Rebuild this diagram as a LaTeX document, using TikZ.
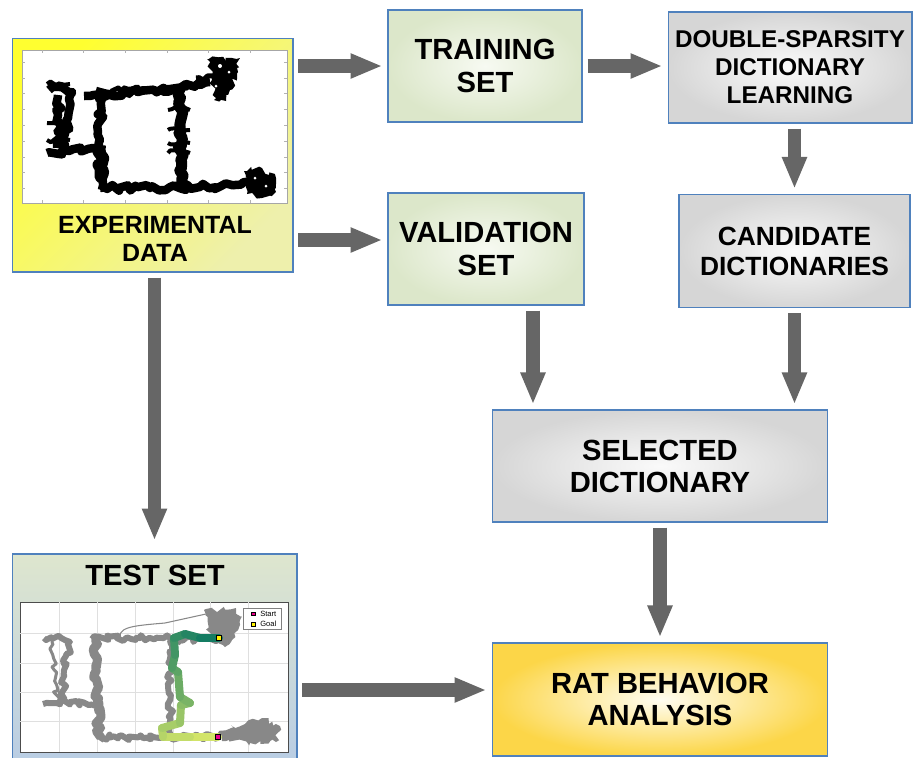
\documentclass[tikz,border=0pt]{standalone}
\usepackage{fontspec}
\setmainfont{Liberation Sans}
\usetikzlibrary{arrows.meta,positioning,calc,decorations.pathmorphing}
\definecolor{boxblue}{RGB}{79,129,189}
\definecolor{arrgray}{RGB}{102,102,102}
\definecolor{grnin}{RGB}{247,250,242}
\definecolor{grnout}{RGB}{220,231,202}
\definecolor{gryin}{RGB}{250,250,250}
\definecolor{gryout}{RGB}{214,214,214}
\definecolor{ratin}{RGB}{255,253,242}
\definecolor{ratout}{RGB}{252,214,72}
\definecolor{expyl}{RGB}{255,255,48}
\definecolor{exppale}{RGB}{238,240,172}
\definecolor{testtop}{RGB}{222,230,206}
\definecolor{testbot}{RGB}{185,205,228}
\definecolor{trjgray}{RGB}{136,136,136}
\definecolor{startyl}{RGB}{224,236,106}
\definecolor{goalgr}{RGB}{20,124,98}
\tikzset{box/.style={draw=boxblue, line width=0.6pt, inner sep=0pt, align=center,
          font=\fontsize{16.6}{19}\selectfont\bfseries},
         greenbox/.style={box, inner color=grnin, outer color=grnout},
         graybox/.style={box, inner color=gryin, outer color=gryout},
         bigarrow/.style={draw=arrgray, line width=0.27cm, shorten <=0.1cm, shorten >=0.1cm,
          -{Triangle[width=0.46cm,length=0.64cm]}},
         traj/.style={line width=0.17cm, line join=round, decorate,
          decoration={random steps, segment length=2.5pt, amplitude=1.7pt}},
         ttraj/.style={trjgray, line width=0.12cm, line join=round, decorate,
          decoration={random steps, segment length=2pt, amplitude=1.8pt}},
         blob/.style={decorate, decoration={random steps, segment length=2pt, amplitude=1.8pt}}}

\begin{document}
\begin{tikzpicture}[x=0.02cm,y=-0.02cm]
\useasboundingbox (0,0) rectangle (914,758);
% boxes
\node[box, top color=expyl, bottom color=exppale, shading angle=45,
      minimum width=5.62cm, minimum height=4.68cm] (expdata) at (152.5,155) {};
\node[greenbox, minimum width=3.88cm, minimum height=2.24cm] (train) at (485,66) {TRAINING\\SET};
\node[graybox, minimum width=4.88cm, minimum height=2.22cm,
      font=\fontsize{13.8}{15.9}\selectfont\bfseries] (dsdl) at (790,67.5) {DOUBLE-SPARSITY\\DICTIONARY\\LEARNING};
\node[greenbox, minimum width=3.92cm, minimum height=2.24cm] (valid) at (486,249) {VALIDATION\\SET};
\node[graybox, minimum width=4.62cm, minimum height=2.26cm,
      font=\fontsize{15}{17}\selectfont\bfseries] (cand) at (794.5,251) {CANDIDATE\\DICTIONARIES};
\node[graybox, minimum width=6.72cm, minimum height=2.24cm,
      font=\fontsize{16.6}{18.2}\selectfont\bfseries] (seldict) at (660,466) {SELECTED\\DICTIONARY};
\node[box, top color=testtop, bottom color=testbot,
      minimum width=5.7cm, minimum height=4.16cm] (testset) at (154.5,658) {};
\node[box, inner color=ratin, outer color=ratout, minimum width=6.72cm, minimum height=2.26cm,
      font=\fontsize{16.6}{18.2}\selectfont\bfseries] (ratba) at (660,699.5) {RAT BEHAVIOR\\ANALYSIS};
\node[align=center, font=\fontsize{14.2}{16.4}\selectfont\bfseries] (explbl) at (155,239) {EXPERIMENTAL\\DATA};
\node[font=\fontsize{16.6}{19}\selectfont\bfseries] (testlbl) at (155,575) {TEST SET};

% arrows
\coordinate (vin) at ([yshift=0.18cm]valid.west);
\coordinate (vout) at ([xshift=0.94cm]valid.south);
\coordinate (rin) at ([yshift=0.19cm]ratba.west);
\draw[bigarrow] (expdata.east |- train.west) -- (train.west);
\draw[bigarrow] (train.east) -- (train.east -| dsdl.west);
\draw[bigarrow] (dsdl.south -| cand.north) -- (cand.north);
\draw[bigarrow] (expdata.east |- vin) -- (vin);
\draw[bigarrow] (vout) -- (vout |- seldict.north);
\draw[bigarrow] (cand.south) -- (cand.south |- seldict.north);
\draw[bigarrow, shorten >=0.26cm] (testset.north |- expdata.south) -- (testset.north);
\draw[bigarrow] (seldict.south) -- (seldict.south |- ratba.north);
\draw[bigarrow] (testset.east |- rin) -- (rin);

% experimental data plot
\draw[gray!70, fill=white, line width=0.4pt] (22,50) rectangle (287,203);
\foreach \tx in {42,83,125,167,208,250}
  \draw[gray!60, line width=0.3pt] (\tx,50) -- (\tx,53) (\tx,203) -- (\tx,200);
\foreach \ty in {62,78,93,109,125,141,157,172,188}
  \draw[gray!60, line width=0.3pt] (22,\ty) -- (25,\ty) (287,\ty) -- (284,\ty);
\draw[traj] (49,90) -- (62,87) -- (72,92) -- (68,118) -- (64,150);
\draw[traj] (58,95) -- (60,130) -- (57,148);
\draw[traj] (47,153) -- (70,151) -- (93,148) -- (100,150);
\draw[traj] (101,88) -- (100,140) -- (102,190);
\draw[traj, line width=0.24cm] (100,145) -- (101,178);
\draw[traj] (84,96) -- (130,92) -- (175,89) -- (210,82);
\draw[traj, line width=0.1cm] (100,92) -- (150,89) -- (200,84);
\draw[traj, line width=0.22cm] (181,87) -- (180,186);
\draw[traj] (100,188) -- (150,188) -- (200,187) -- (235,185) -- (252,181);
\draw[traj, line width=0.1cm] (196,78) -- (224,78);
\foreach \sy in {110,130,143,153}
  \draw[traj, line width=0.08cm] (168,\sy) -- (190,\sy);
\foreach \sy in {84,123,140}
  \draw[traj, line width=0.08cm] (47,\sy) -- (70,\sy);
\fill[blob] (207,59) -- (240,58) -- (238,72) -- (230,90) -- (226,101) -- (214,100) -- (212,80) -- cycle;
\fill[white] (220,66) circle (2) (229,72) circle (1.5) (216,86) circle (1.5);
\fill[blob] (244,171) -- (262,168) -- (276,178) -- (276,192) -- (262,198) -- (247,194) -- cycle;
\fill[white] (255,178) circle (1.5) (266,186) circle (1.5);

% test set plot
\draw[black!70, fill=white, line width=0.4pt] (20,602) rectangle (288,752);
\foreach \gx in {59,97,135,173,210,248}
  \draw[gray!25, line width=0.5pt] (\gx,602) -- (\gx,752);
\foreach \gy in {633,663,692,721}
  \draw[gray!25, line width=0.5pt] (20,\gy) -- (288,\gy);
\draw[ttraj] (44,638) -- (58,636) -- (70,642) -- (64,670) -- (62,704);
\draw[ttraj, line width=0.06cm] (52,640) -- (55,680) -- (58,702);
\draw[ttraj] (43,704) -- (70,702) -- (97,704);
\draw[ttraj, line width=0.18cm] (96,636) -- (97,690) -- (99,740);
\draw[ttraj] (92,639) -- (140,638) -- (224,640);
\draw[trjgray, line width=0.6pt] (120,641) .. controls (117,627) and (130,626) .. (165,623) -- (206,614);
\draw[ttraj] (170,640) -- (170,737);
\draw[ttraj] (100,737) -- (160,738) -- (218,737);
\fill[trjgray, blob] (204,610) -- (236,608) -- (240,620) -- (232,640) -- (225,647) -- (212,640) -- cycle;
\fill[trjgray, blob] (218,733) -- (245,724) -- (262,718) -- (280,726) -- (276,742) -- (250,743) -- (222,741) -- cycle;
\foreach \px/\py [count=\k] in {218/737,190/737,163/737,162/728,180/723,181/705,190/703,180/697,
    178/672,172/668,175/655,174/638,185/634,200/638,219/638}
  {\coordinate (cp\k) at (\px,\py);}
\foreach \k [count=\n from 2, evaluate=\k as \pc using int(\k*100/14)] in {1,...,14}
  {\draw[line width=0.16cm, line cap=round, color=goalgr!\pc!startyl] (cp\k) -- (cp\n);}
\node[draw, fill=magenta, minimum size=0.1cm, inner sep=0pt, line width=0.4pt] (startmk) at (cp1) {};
\node[draw, fill=yellow, minimum size=0.1cm, inner sep=0pt, line width=0.4pt] (goalmk) at (cp15) {};
\node[draw=gray, fill=white, line width=0.3pt, minimum width=0.77cm, minimum height=0.43cm, inner sep=0pt] (legend) at (262.5,619) {};
\node[draw, fill=magenta, minimum size=0.07cm, inner sep=0pt, line width=0.2pt] (lgs) at (253,613.5) {};
\node[draw, fill=yellow, minimum size=0.07cm, inner sep=0pt, line width=0.2pt] (lgg) at (253,624) {};
\node[right=0.1cm of lgs, inner sep=0pt, font=\fontsize{4.3}{5}\selectfont] {Start};
\node[right=0.1cm of lgg, inner sep=0pt, font=\fontsize{4.3}{5}\selectfont] {Goal};
\end{tikzpicture}
\end{document}
